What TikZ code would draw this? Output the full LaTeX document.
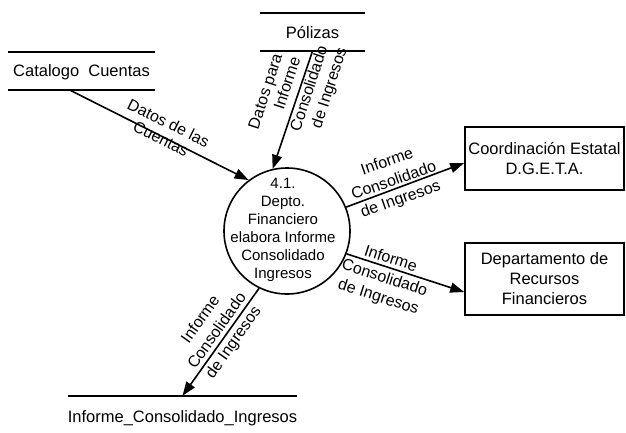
\documentclass[tikz,border=0pt]{standalone}
\usepackage{fontspec}
\setmainfont{Liberation Sans}
\usetikzlibrary{arrows.meta,calc}
\begin{document}
\begin{tikzpicture}[x=1pt,y=-1pt,
  flow/.style={line width=1.6pt,-{Triangle[length=14pt,width=10pt]}},
  storeline/.style={line width=2.2pt},
  lbl/.style={font=\fontsize{16}{20}\selectfont,align=center,inner sep=0pt},
  ent/.style={draw,line width=1.6pt,minimum width=159pt,align=center,inner sep=0pt,
    font=\fontsize{16.5}{20}\selectfont},
  store/.style={inner sep=0pt,minimum height=38pt,text depth=0pt,font=\fontsize{16.5}{20}\selectfont}]
\useasboundingbox (0,0) rectangle (626,433);

% data stores
\node[store,minimum width=147pt] (cat) at (81.5,71) {Catalogo\ \ Cuentas};
\draw[storeline] (cat.north west) -- (cat.north east);
\draw[storeline] (cat.south west) -- (cat.south east);

\node[store,minimum width=105pt] (pol) at (312.5,32) {Pólizas};
\draw[storeline] (pol.north west) -- (pol.north east);
\draw[storeline] (pol.south west) -- (pol.south east);

\node[store,minimum width=229pt,minimum height=42pt] (ics) at (182.5,417) {Informe\_Consolidado\_Ingresos};
\draw[storeline] (ics.north west) -- (ics.north east);

% process
\node[draw,circle,line width=1.6pt,minimum size=126pt,inner sep=0pt] (proc) at (287,231) {};
\node[lbl,font=\fontsize{15}{18}\selectfont] (proctxt) at (283,230)
  {4.1.\\Depto.\\Financiero\\elabora Informe\\Consolidado\\Ingresos};

% external entities
\node[ent,minimum height=63pt] (coord) at (544.5,158.5) {Coordinación Estatal\\D.G.E.T.A.};
\node[ent,minimum height=72pt,text depth=0pt] (rf) at (544.5,279) {Departamento de\\Recursos\\Financieros};

% flows
\draw[flow] ($(cat.south west)!0.422!(cat.south east)$) -- (proc.127);
\draw[flow] (pol.south) -- (proc.103);
\draw[flow] (proc.22) -- (coord.west |- 0,163);
\draw[flow] (proc.-21) -- (rf.west |- 0,292);
\draw[flow] (proc.-116) -- (ics.north);

% flow labels
\node[lbl,font=\fontsize{16}{17}\selectfont,rotate=-26.4] (l1) at (164.8,130.6) {Datos de las\\Cuentas};
\node[lbl,rotate=71.9] (l2a) at (266.7,91.7) {Datos para};
\node[lbl,rotate=71.9] (l2b) at (286.7,83.3) {Informe};
\node[lbl,rotate=71.9] (l2c) at (308.3,88.3) {Consolidado};
\node[lbl,rotate=71.9] (l2d) at (330,88.3) {de Ingresos};
\node[lbl,rotate=19.5] (l3) at (394.1,181.1) {Informe\\Consolidado\\de Ingresos};
\node[lbl,rotate=-17.8] (l4) at (384.4,278.6) {Informe\\Consolidado\\de Ingresos};
\node[lbl,rotate=54.7] (l5) at (217.6,331.2) {Informe\\Consolidado\\de Ingresos};
\end{tikzpicture}
\end{document}
